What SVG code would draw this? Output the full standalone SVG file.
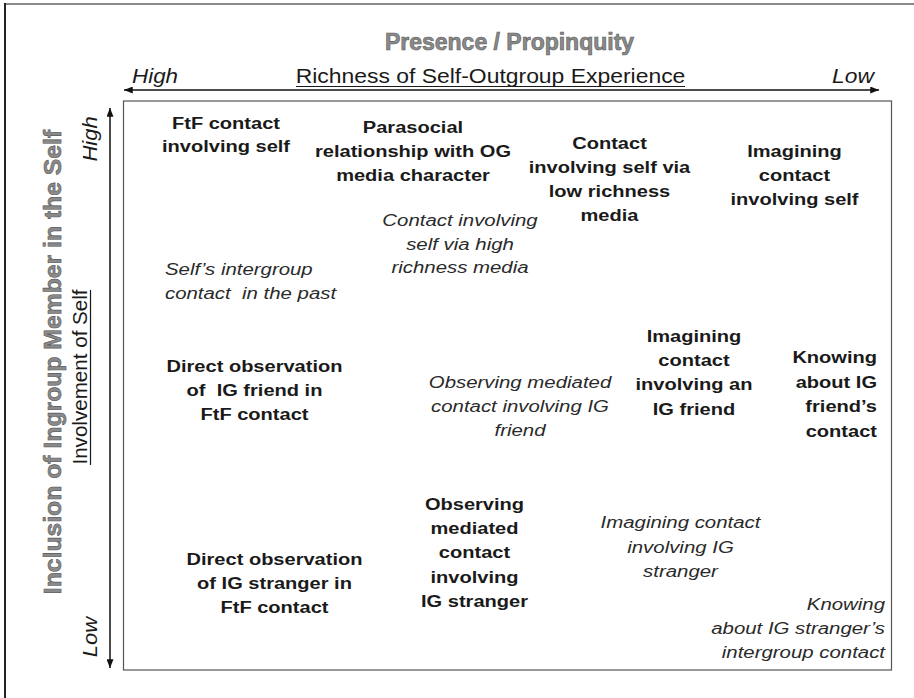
<svg xmlns="http://www.w3.org/2000/svg" width="914" height="698" viewBox="0 0 914 698">
<style>
  .b { font-family: "Liberation Sans", Arial, sans-serif; font-weight: bold; font-size: 17px; fill: #1a1a1a; text-anchor: middle; }
  .i { font-family: "Liberation Sans", Arial, sans-serif; font-style: italic; font-size: 17px; fill: #2a2a2a; text-anchor: middle; }
  .ax { font-family: "Liberation Sans", Arial, sans-serif; font-size: 20px; fill: #1a1a1a; text-anchor: middle; }
  .axi { font-family: "Liberation Sans", Arial, sans-serif; font-style: italic; font-size: 20px; fill: #1a1a1a; text-anchor: middle; }
  .ttl { font-family: "Liberation Sans", Arial, sans-serif; font-weight: bold; font-size: 23px; fill: #8a8a8a; stroke: #5a5a5a; stroke-width: 0.6; text-anchor: middle; }
  .end { text-anchor: end; }
  .start { text-anchor: start; }
  .arr { stroke: #111; stroke-width: 1.5; fill: none; }
</style>
<defs>
  <marker id="ah" viewBox="0 0 10 8" refX="10" refY="4" markerWidth="9" markerHeight="7" markerUnits="userSpaceOnUse" orient="auto-start-reverse">
    <path d="M0,0 L10,4 L0,8 z" fill="#111"/>
  </marker>
</defs>
<rect width="914" height="698" fill="#ffffff"/>
<!-- outer frame fragments -->
<line x1="5" y1="4" x2="914" y2="4" stroke="#8a8a8a" stroke-width="2"/>
<line x1="5" y1="3" x2="5" y2="698" stroke="#222" stroke-width="2"/>

<!-- main plot box -->
<rect x="123.5" y="101" width="768" height="569" fill="none" stroke="#555" stroke-width="1.2"/>

<!-- axis titles -->
<g id="title-top">
  <text class="ttl" x="509.5" y="50">Presence / Propinquity</text>
</g>
<g id="title-left" transform="translate(61 362) rotate(-90) scale(1.076 1)">
  <text class="ttl" x="0" y="0">Inclusion of Ingroup Member in the Self</text>
</g>

<g id="axis-top-labels">
  <g transform="translate(155 83) scale(1.12 1)"><text class="axi" x="0" y="0">High</text></g>
  <g transform="translate(490.5 83) scale(1.146 1)"><text class="ax" x="0" y="0">Richness of Self-Outgroup Experience</text></g>
  <line x1="296" y1="86.5" x2="685" y2="86.5" stroke="#1a1a1a" stroke-width="1.2"/>
  <g transform="translate(853 83) scale(1.14 1)"><text class="axi" x="0" y="0">Low</text></g>
</g>
<g id="axis-left-labels">
  <g transform="translate(97 139) rotate(-90) scale(1.1 1)"><text class="axi" x="0" y="0">High</text></g>
  <g transform="translate(87 377) rotate(-90) scale(1.03 1)"><text class="ax" x="0" y="0">Involvement of Self</text></g>
  <line x1="90.5" y1="290" x2="90.5" y2="465" stroke="#1a1a1a" stroke-width="1.2"/>
  <g transform="translate(97 637) rotate(-90) scale(1.1 1)"><text class="axi" x="0" y="0">Low</text></g>
</g>

<!-- connectors (axis arrows) -->
<g id="connectors">
  <line class="arr" x1="124" y1="90" x2="879" y2="90" marker-start="url(#ah)" marker-end="url(#ah)"/>
  <line class="arr" x1="110" y1="108" x2="110" y2="668" marker-start="url(#ah)" marker-end="url(#ah)"/>
</g>

<!-- nodes -->
<g id="n-ftf-self" transform="translate(226 0) scale(1.18 1)">
  <text class="b" x="0" y="129">FtF contact</text>
  <text class="b" x="0" y="152">involving self</text>
</g>
<g id="n-parasocial" transform="translate(413 0) scale(1.18 1)">
  <text class="b" x="0" y="133">Parasocial</text>
  <text class="b" x="0" y="157.5">relationship with OG</text>
  <text class="b" x="0" y="181.5">media character</text>
</g>
<g id="n-low-richness" transform="translate(609.5 0) scale(1.18 1)">
  <text class="b" x="0" y="149">Contact</text>
  <text class="b" x="0" y="173">involving self via</text>
  <text class="b" x="0" y="197">low richness</text>
  <text class="b" x="0" y="221">media</text>
</g>
<g id="n-imagining-self" transform="translate(794.5 0) scale(1.18 1)">
  <text class="b" x="0" y="157.5">Imagining</text>
  <text class="b" x="0" y="181">contact</text>
  <text class="b" x="0" y="205">involving self</text>
</g>
<g id="n-high-richness" transform="translate(460 0) scale(1.2 1)">
  <text class="i" x="0" y="226">Contact involving</text>
  <text class="i" x="0" y="250">self via high</text>
  <text class="i" x="0" y="273.5">richness media</text>
</g>
<g id="n-past" transform="translate(165 0) scale(1.2 1)">
  <text class="i start" x="0" y="275">Self’s intergroup</text>
  <text class="i start" x="0" y="299" xml:space="preserve">contact  in the past</text>
</g>
<g id="n-direct-friend" transform="translate(254.5 0) scale(1.18 1)">
  <text class="b" x="0" y="372">Direct observation</text>
  <text class="b" x="0" y="396" xml:space="preserve">of  IG friend in</text>
  <text class="b" x="0" y="420">FtF contact</text>
</g>
<g id="n-mediated-friend" transform="translate(520 0) scale(1.2 1)">
  <text class="i" x="0" y="388">Observing mediated</text>
  <text class="i" x="0" y="412">contact involving IG</text>
  <text class="i" x="0" y="436">friend</text>
</g>
<g id="n-imagining-friend" transform="translate(694 0) scale(1.18 1)">
  <text class="b" x="0" y="342">Imagining</text>
  <text class="b" x="0" y="366">contact</text>
  <text class="b" x="0" y="390">involving an</text>
  <text class="b" x="0" y="415">IG friend</text>
</g>
<g id="n-knowing-friend" transform="translate(877 0) scale(1.18 1)">
  <text class="b end" x="0" y="363.5">Knowing</text>
  <text class="b end" x="0" y="388">about IG</text>
  <text class="b end" x="0" y="412.5">friend’s</text>
  <text class="b end" x="0" y="437">contact</text>
</g>
<g id="n-mediated-stranger" transform="translate(474.5 0) scale(1.18 1)">
  <text class="b" x="0" y="510">Observing</text>
  <text class="b" x="0" y="534">mediated</text>
  <text class="b" x="0" y="558.5">contact</text>
  <text class="b" x="0" y="583">involving</text>
  <text class="b" x="0" y="607">IG stranger</text>
</g>
<g id="n-direct-stranger" transform="translate(274.5 0) scale(1.18 1)">
  <text class="b" x="0" y="565">Direct observation</text>
  <text class="b" x="0" y="589">of IG stranger in</text>
  <text class="b" x="0" y="613">FtF contact</text>
</g>
<g id="n-imagining-stranger" transform="translate(680.5 0) scale(1.2 1)">
  <text class="i" x="0" y="528">Imagining contact</text>
  <text class="i" x="0" y="553">involving IG</text>
  <text class="i" x="0" y="577">stranger</text>
</g>
<g id="n-knowing-stranger" transform="translate(885 0) scale(1.2 1)">
  <text class="i end" x="0" y="610">Knowing</text>
  <text class="i end" x="0" y="634">about IG stranger’s</text>
  <text class="i end" x="0" y="658">intergroup contact</text>
</g>
</svg>
